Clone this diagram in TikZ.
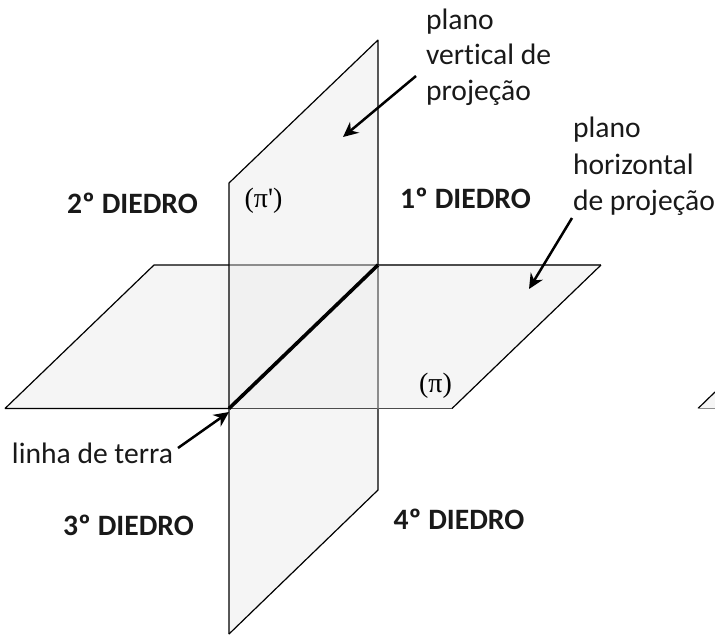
\documentclass[tikz,border=0pt]{standalone}
\usepackage{fontspec}
\setmainfont{Carlito}[Ligatures=NoCommon]
\newfontfamily\pifont{Liberation Serif}
\usetikzlibrary{arrows.meta}
\tikzset{
  x=1pt,y=-1pt,
  plane/.style={fill=black!4,draw=none},
  edge/.style={draw=black,line width=1.2pt,line join=bevel},
  dimedge/.style={draw=black!70,line width=1.2pt},
  seam/.style={draw=black!45,line width=1.1pt},
  lbl/.style={inner sep=0pt,outer sep=0pt,font=\fontsize{29.6}{29.6}\selectfont,text=black!90},
  left lbl/.style={lbl,anchor=base west},
  head/.style={lbl,font=\fontsize{29.6}{29.6}\selectfont\bfseries,anchor=base},
  sym/.style={inner sep=0pt,font=\fontsize{28}{28}\selectfont\pifont,anchor=base},
  pointer/.style={draw=black,line width=2.5pt,-{Stealth[length=15pt,width=14pt]}},
  earth/.style={draw=black,line width=3.6pt}
}
\begin{document}
\begin{tikzpicture}
\useasboundingbox (0,0) rectangle (715,635);
% horizontal plane
\coordinate (hbl) at (5,408.5);
\coordinate (htl) at (154,265);
\coordinate (htr) at (601,265);
\coordinate (hbr) at (452,408.5);
% vertical plane
\coordinate (vtr) at (378,40);
\coordinate (vtl) at (229,183);
\coordinate (vbl) at (229,634);
\coordinate (vbr) at (378,490);
\coordinate (vtm) at (378,265);
\coordinate (vbm) at (378,408.5);
\coordinate (vlt) at (229,265);
\coordinate (vlb) at (229,408.5);
% fills
\fill[plane] (hbl)--(htl)--(htr)--(hbr)--cycle;
\fill[plane] (vtl)--(vtr)--(vbr)--(vbl)--cycle;
\fill[black!5.5] (vlt)--(vtm)--(vbm)--(vlb)--cycle;
% horizontal outline
\draw[edge] (vlb)--(hbl)--(htl)--(vlt);
\draw[dimedge] (vtm)--(htr);
\draw[edge] (htr)--(hbr);
\draw[dimedge] (hbr)--(vlb);
% seams inside the overlap
\draw[seam] (vlt)--(vtm);
\draw[seam] (vtm)--(vbm);
% vertical outline
\draw[edge] (vtm)--(vtr)--(vtl)--(vbl);
\draw[edge] (vbm)--(vbr)--(vbl);
% intersection line
\draw[earth] (vlb)--(vtm);
% stub at the right margin
\coordinate (sa) at (715,392);
\coordinate (sb) at (698,408.5);
\coordinate (sc) at (715,408.5);
\fill[plane] (sa)--(sb)--(sc)--cycle;
\draw[edge] (sa)--(sb);
\draw[seam] (sb)--(sc);
% labels
\node[left lbl] (pv1) at (426,29) {plano};
\node[left lbl] (pv2) at (426,64) {vertical de};
\node[left lbl] (pv3) at (426,100) {projeção};
\node[left lbl] (ph1) at (573,137) {plano};
\node[left lbl] (ph2) at (573,174) {horizontal};
\node[left lbl] (ph3) at (573,210) {de projeção};
\node[head] (d2) at (132.5,213) {2º DIEDRO};
\node[head] (d1) at (465.5,208) {1º DIEDRO};
\node[head] (d3) at (128.5,535) {3º DIEDRO};
\node[head] (d4) at (459,529) {4º DIEDRO};
\node[left lbl] (lt) at (12,463) {linha de terra};
\node[sym] (pv) at (263.5,207) {(π')};
\node[sym] (ph) at (435.5,392) {(π)};
% pointers
\coordinate (avs) at (416,76);
\coordinate (ave) at (343,137);
\coordinate (ahs) at (572,218);
\coordinate (ahe) at (529,289);
\coordinate (ats) at (178,448);
\coordinate (ate) at (229,412);
\draw[pointer] (avs)--(ave);
\draw[pointer] (ahs)--(ahe);
\draw[pointer] (ats)--(ate);
\end{tikzpicture}
\end{document}
